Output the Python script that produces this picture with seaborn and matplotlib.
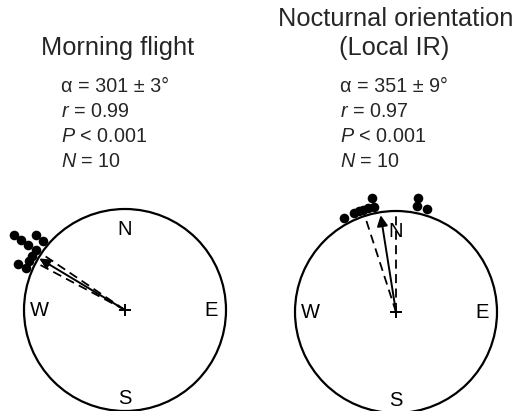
import numpy as np
import pandas as pd
import matplotlib
matplotlib.use("Agg")
import matplotlib.pyplot as plt
from matplotlib.patches import Circle
import seaborn as sns

# ---------------- data ----------------
panel_names = ["Morning flight", "Nocturnal orientation"]
title_lines = [["Morning flight"], ["Nocturnal orientation", "(Local IR)"]]
morning_bearings = [293, 293, 297, 300, 304, 304, 304, 304, 310, 310]
nocturnal_bearings = [331, 337, 340, 342, 345, 348, 348, 11, 11, 17]
mean_dir = [301, 351]
ci_half = [3, 9]
r_vals = [0.99, 0.97]
p_vals = ["< 0.001", "< 0.001"]
n_vals = [10, 10]
compass_labels = ["N", "E", "S", "W"]

# ---------------- layout ----------------
W, H, DPI = 514, 411, 100
centers = [(125, 310), (396, 312)]
R = 101.0
compass_off = {"N": (0, -81), "E": (86, 0), "S": (0, 88), "W": (-86, 0)}
dot_r0, dot_step = 1.065, 0.088
title_x = [[118], [396, 394]]
title_y = [[55], [26, 55]]
stats_x = [61, 340]

sns.set_style("white")
plt.rcParams["font.family"] = ["Liberation Sans", "DejaVu Sans"]
plt.rcParams["mathtext.fontset"] = "custom"
plt.rcParams["mathtext.rm"] = "Liberation Sans"
plt.rcParams["mathtext.it"] = "Liberation Sans:italic"

fig = plt.figure(figsize=(W / DPI, H / DPI), dpi=DPI)
ax = fig.add_axes([0, 0, 1, 1])


def to_xy(c, bearing, rad):
    th = np.deg2rad(np.asarray(bearing, dtype=float))
    rad = np.asarray(rad, dtype=float)
    return c[0] + R * rad * np.sin(th), c[1] - R * rad * np.cos(th)


rows = []
for i, bearings in enumerate([morning_bearings, nocturnal_bearings]):
    df = pd.DataFrame({"bearing": bearings})
    df["stack"] = df.groupby("bearing").cumcount()
    df["rad"] = dot_r0 + dot_step * df["stack"]
    x, y = to_xy(centers[i], df["bearing"], df["rad"])
    df["x"], df["y"] = x, y
    df["panel"] = panel_names[i]
    rows.append(df)
dots = pd.concat(rows, ignore_index=True)

for i, c in enumerate(centers):
    ax.add_patch(Circle(c, R, fill=False, lw=1.6, ec="black"))
    ax.plot(c[0], c[1], marker="+", ms=9, mew=1.4, color="black")
    for d in (mean_dir[i] - ci_half[i], mean_dir[i] + ci_half[i]):
        xe, ye = to_xy(c, d, 1.0)
        ax.plot([c[0], xe], [c[1], ye], color="black", lw=1.3,
                dashes=(5, 3))
    xt, yt = to_xy(c, mean_dir[i], r_vals[i])
    ax.annotate("", xy=(xt, yt), xytext=c,
                arrowprops=dict(arrowstyle="-|>", lw=1.4, color="black",
                                mutation_scale=16, shrinkA=0, shrinkB=0))
    for lab in compass_labels:
        dx, dy = compass_off[lab]
        ax.text(c[0] + dx, c[1] + dy, lab, fontsize=14.5, ha="center",
                va="center", color="black")
    for line, tx, ty in zip(title_lines[i], title_x[i], title_y[i]):
        ax.text(tx, ty, line, fontsize=18.3, ha="center", va="baseline")
    stats = [f"α = {mean_dir[i]} ± {ci_half[i]}°",
             r"$\it{r}$" + f" = {r_vals[i]:.2f}",
             r"$\it{P}$" + f" {p_vals[i]}",
             r"$\it{N}$" + f" = {n_vals[i]}"]
    for k, s in enumerate(stats):
        ax.text(stats_x[i], 92 + 25 * k, s, fontsize=14.2, ha="left",
                va="baseline")

sns.scatterplot(data=dots, x="x", y="y", ax=ax, color="black", s=48,
                edgecolor="black", linewidth=0, legend=False, clip_on=False,
                zorder=5)
ax.set_xlim(0, W)
ax.set_ylim(H, 0)
ax.set_axis_off()

fig.savefig("out.png", dpi=DPI)
